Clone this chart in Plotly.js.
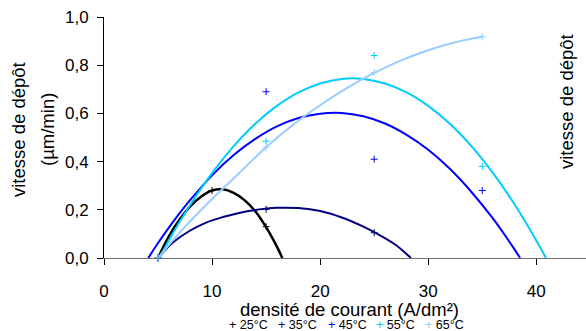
<!DOCTYPE html>
<html>
<head>
<meta charset="utf-8">
<script src="https://cdn.plot.ly/plotly-3.0.1.min.js"></script>
<style>html,body{margin:0;padding:0;background:#fff;}#chart{width:586px;height:331px;}</style>
</head>
<body>
<div id="chart"></div>
<script>
// Series names and colours
const seriesNames = ["25°C", "35°C", "45°C", "55°C", "65°C"];
const seriesColors = ["#000000", "#000080", "#0000ff", "#00ccff", "#99ccff"];

// Measured points (A/dm², µm/min)
const pts25_x = [5, 10, 15];
const pts25_y = [0, 0.28, 0.13];
const pts35_x = [5, 15, 25];
const pts35_y = [0, 0.202, 0.105];
const pts45_x = [5, 15, 25, 35];
const pts45_y = [0, 0.69, 0.41, 0.28];
const pts55_x = [5, 15, 25, 35];
const pts55_y = [0, 0.485, 0.84, 0.38];
const pts65_x = [5, 15, 25, 35];
const pts65_y = [0, 0.46, 0.77, 0.918];

// Trend curves
const fit25_x = [5, 6, 7, 8, 9, 10, 11, 12, 13, 14, 15, 16, 16.5];
const fit25_y = [0, 0.09, 0.16, 0.215, 0.255, 0.28, 0.285, 0.27, 0.24, 0.194, 0.128, 0.047, 0];
const fit35_x = [5, 6.4, 7.9, 9.5, 11, 12.5, 14, 16, 18, 20, 22, 24, 25.5, 27, 28.4];
const fit35_y = [0, 0.065, 0.112, 0.148, 0.17, 0.187, 0.199, 0.208, 0.207, 0.195, 0.168, 0.13, 0.095, 0.054, 0];
const fit45_x = [4.1, 5, 6, 7, 8, 10, 12, 14, 16, 18, 20, 22, 24, 26, 28, 30, 32, 34, 36, 38, 38.5];
const fit45_y = [0, 0.062, 0.126, 0.186, 0.242, 0.343, 0.427, 0.494, 0.546, 0.581, 0.599, 0.602, 0.588, 0.558, 0.511, 0.449, 0.37, 0.274, 0.163, 0.035, 0];
const fit55_x = [5.1, 6, 7, 8, 10, 12, 14, 16, 18, 20, 22, 24, 26, 28, 30, 32, 34, 36, 38, 40, 40.9];
const fit55_y = [0, 0.073, 0.15, 0.222, 0.352, 0.464, 0.557, 0.631, 0.687, 0.724, 0.743, 0.743, 0.724, 0.687, 0.631, 0.557, 0.464, 0.352, 0.222, 0.073, 0];
const fit65_x = [5, 7.5, 10, 12.5, 15, 17.5, 20, 22.5, 25, 27.5, 30, 32.5, 35];
const fit65_y = [0, 0.13, 0.245, 0.352, 0.46, 0.553, 0.634, 0.706, 0.768, 0.82, 0.862, 0.895, 0.918];

// Axis ticks
const xTicks = [0, 10, 20, 30, 40];
const yTicks = [0, 0.2, 0.4, 0.6, 0.8, 1.0];

const ptsX = [pts25_x, pts35_x, pts45_x, pts55_x, pts65_x];
const ptsY = [pts25_y, pts35_y, pts45_y, pts55_y, pts65_y];
const fitX = [fit25_x, fit35_x, fit45_x, fit55_x, fit65_x];
const fitY = [fit25_y, fit35_y, fit45_y, fit55_y, fit65_y];

const font = "Liberation Sans, Arial, sans-serif";
const W = 586, H = 331, ML = 104, MR = 0, MT = 17, MB = 73;
const PW = W - ML - MR, PH = H - MT - MB;
const px2x = p => (p - ML) / PW;
const px2y = p => (H - MB - p) / PH;

const traces = [];
for (let i = 0; i < seriesNames.length; i++) {
  traces.push({
    x: fitX[i], y: fitY[i], type: "scatter", mode: "lines",
    line: {color: seriesColors[i], width: i === 0 ? 2.5 : 2, shape: "spline", smoothing: 1},
    showlegend: false, hoverinfo: "skip"
  });
}
for (let i = 0; i < seriesNames.length; i++) {
  traces.push({
    x: ptsX[i], y: ptsY[i], type: "scatter", mode: "markers", name: seriesNames[i],
    marker: {symbol: "cross-thin", size: 5, color: seriesColors[i], line: {color: seriesColors[i], width: 1}},
    cliponaxis: false, showlegend: false
  });
}

// Legend row (small key under the axis title)
const legendLeftPx = [227, 275.5, 325.5, 373.5, 423];
const annotations = [
  {xref: "paper", yref: "paper", x: px2x(18), y: px2y(130), xanchor: "center", yanchor: "middle",
   text: "vitesse de dépôt", textangle: -90, showarrow: false, font: {size: 18.5}},
  {xref: "paper", yref: "paper", x: px2x(47), y: px2y(130), xanchor: "center", yanchor: "middle",
   text: "(µm/min)", textangle: -90, showarrow: false, font: {size: 18.5}},
  {xref: "paper", yref: "paper", x: px2x(567), y: px2y(102), xanchor: "center", yanchor: "middle",
   text: "vitesse de dépôt", textangle: -90, showarrow: false, font: {size: 18.5}},
  {xref: "paper", yref: "paper", x: px2x(349), y: px2y(309), xanchor: "center", yanchor: "middle",
   text: "densité de courant (A/dm²)", showarrow: false, font: {size: 18.5}, borderpad: 0, borderwidth: 0}
];
for (let i = 0; i < seriesNames.length; i++) {
  annotations.push({
    xref: "paper", yref: "paper", x: px2x(legendLeftPx[i] + 2), y: px2y(325), xanchor: "left", yanchor: "middle",
    text: '<span style="color:' + seriesColors[i] + '">+</span> ' + seriesNames[i],
    showarrow: false, font: {size: 12.5}, borderpad: 0, borderwidth: 0
  });
}

const layout = {
  width: W, height: H,
  margin: {l: ML, r: MR, t: MT, b: MB, autoexpand: false},
  paper_bgcolor: "#ffffff", plot_bgcolor: "#ffffff",
  separators: ", ",
  font: {family: font, size: 17, color: "#000"},
  xaxis: {
    range: [0, 44.6], tickvals: xTicks, ticks: "outside", ticklen: 6, tickcolor: "#000",
    showline: true, linecolor: "#707070", linewidth: 1, showgrid: false, zeroline: false,
    ticklabelstandoff: 12, automargin: false
  },
  yaxis: {
    range: [0, 1], tickvals: yTicks, tickformat: ".1f", ticks: "outside", ticklen: 6, tickcolor: "#000",
    showline: true, linecolor: "#000", linewidth: 1, showgrid: false, zeroline: false,
    ticklabelstandoff: 5, automargin: false
  },
  showlegend: false,
  annotations: annotations
};

Plotly.newPlot("chart", traces, layout, {displayModeBar: false, staticPlot: true});
</script>
</body>
</html>
